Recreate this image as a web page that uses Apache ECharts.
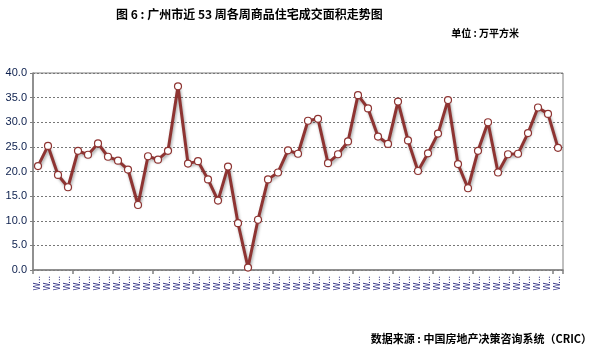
<!DOCTYPE html>
<html><head><meta charset="utf-8">
<script src="https://cdn.jsdelivr.net/npm/echarts@6/dist/echarts.min.js"></script>
<style>html,body{margin:0;padding:0;background:#fff;}#c{width:597px;height:352px;}</style>
</head><body><div id="c"></div>
<script>
var weeks = [];
for (var i = 1; i <= 53; i++) weeks.push('W' + i);
var values = [21.1,25.2,19.3,16.8,24.2,23.4,25.7,23.0,22.2,20.4,
13.2,23.1,22.4,24.2,37.3,21.6,22.1,18.4,14.1,21.0,
9.5,0.5,10.2,18.4,19.8,24.3,23.6,30.3,30.7,21.7,
23.5,26.1,35.5,32.8,27.1,25.6,34.2,26.3,20.1,23.7,
27.7,34.5,21.5,16.6,24.2,30.0,19.8,23.5,23.6,27.8,
33.0,31.7,24.8];
var titleText = '图 6 : 广州市近 53 周各周商品住宅成交面积走势图';
var unitText = '单位 : 万平方米';
var sourceText = '数据来源 : 中国房地产决策咨询系统（CRIC）';

var chart = echarts.init(document.getElementById('c'), null, {renderer:'canvas'});
chart.setOption({
  animation:false,
  backgroundColor:'#fff',
  graphic:[
    {type:'text', left:116, top:8, style:{text:titleText, font:'bold 12px "Noto Sans CJK SC"', fill:'#000'}},
    {type:'text', right:78, top:28, style:{text:unitText, font:'bold 10px "Noto Sans CJK SC"', fill:'#000'}},
    {type:'text', right:5, top:333, style:{text:sourceText, font:'bold 11px "Noto Sans CJK SC"', fill:'#000'}}
  ],
  grid:{left:33, right:34, top:73, bottom:82, show:true, borderColor:'#808080', borderWidth:1},
  xAxis:{
    type:'category', data:weeks, boundaryGap:true,
    axisLine:{lineStyle:{color:'#808080', width:1.5}},
    axisTick:{show:true, interval:3, length:4, lineStyle:{color:'#808080', width:1.5}},
    axisLabel:{interval:0, rotate:90, fontSize:8, color:'#3a3a8a', margin:6, fontFamily:'DejaVu Sans',
      formatter:function(v){return v.charAt(0) + '...';}}
  },
  yAxis:{
    type:'value', min:0, max:40, interval:5,
    axisLine:{show:true, lineStyle:{color:'#808080', width:1.5}},
    axisTick:{show:true, length:3, lineStyle:{color:'#808080'}},
    axisLabel:{color:'#0c1f4d', fontSize:11, fontFamily:'Liberation Sans', margin:6,
      formatter:function(v){return v.toFixed(1);}},
    splitLine:{show:true, lineStyle:{color:'#777', type:[2,2], width:1}}
  },
  series:[{
    type:'line', data:values,
    symbol:'circle', symbolSize:7,
    lineStyle:{color:'#8e3432', width:3, shadowColor:'rgba(0,0,0,0.35)', shadowBlur:3, shadowOffsetX:1, shadowOffsetY:2},
    itemStyle:{color:'#fff', borderColor:'#8e3432', borderWidth:1.2},
    z:3
  }]
});
</script></body></html>
